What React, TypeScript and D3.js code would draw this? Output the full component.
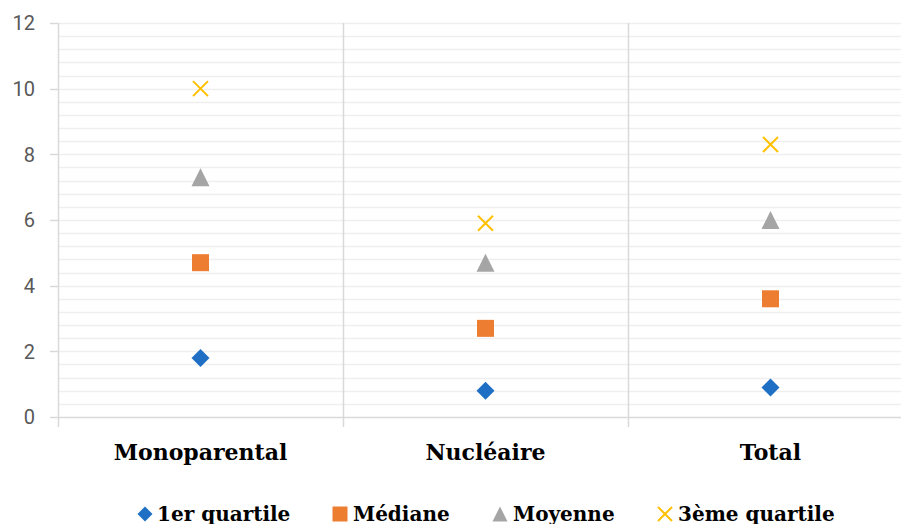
import { useEffect, useRef } from 'react';
import * as d3 from 'd3';

const categories = ['Monoparental', 'Nucléaire', 'Total'];
const seriesNames = ['1er quartile', 'Médiane', 'Moyenne', '3ème quartile'];
const q1 = [1.8, 0.8, 0.9];
const median = [4.7, 2.7, 3.6];
const mean = [7.3, 4.7, 6.0];
const q3 = [10, 5.9, 8.3];
const yTicks = [0, 2, 4, 6, 8, 10, 12];

const colors = ['#1f6fc5', '#ed7d31', '#a5a5a5', '#ffc000'];
const shapes = ['diamond', 'square', 'triangle', 'cross'];

const App = () => {
  const svgRef = useRef<SVGSVGElement>(null);

  const width = 901;
  const height = 524;

  useEffect(() => {
    if (!svgRef.current) return;
    document.body.style.margin = '0';

    const svg = d3.select(svgRef.current);
    svg.selectAll('*').remove();

    const left = 58;
    const top = 23;
    const bottom = 417;

    const x = d3.scaleBand().domain(categories).range([left, left + 285 * 3]);
    const y = d3.scaleLinear().domain([0, 12]).range([bottom, top]);

    // minor + major gridlines, every 0.4
    const grid = d3.range(1, 31).map(i => i * 0.4);
    svg.append('g')
      .selectAll('line')
      .data(grid)
      .enter()
      .append('line')
      .attr('x1', left)
      .attr('x2', width)
      .attr('y1', d => Math.round(y(d)) + 0.5)
      .attr('y2', d => Math.round(y(d)) + 0.5)
      .attr('stroke', '#efefef')
      .attr('stroke-width', 1.5);

    // category separators
    svg.append('g')
      .selectAll('line')
      .data(categories.slice(1))
      .enter()
      .append('line')
      .attr('x1', d => Math.round(x(d)!) + 0.5)
      .attr('x2', d => Math.round(x(d)!) + 0.5)
      .attr('y1', top)
      .attr('y2', bottom + 10)
      .attr('stroke', '#d9d9d9')
      .attr('stroke-width', 1.5);

    // left axis line and ticks
    svg.append('line')
      .attr('x1', left + 0.5).attr('x2', left + 0.5)
      .attr('y1', top).attr('y2', bottom + 10)
      .attr('stroke', '#d9d9d9').attr('stroke-width', 1.5);

    svg.append('g')
      .selectAll('line')
      .data(yTicks)
      .enter()
      .append('line')
      .attr('x1', left - 8)
      .attr('x2', left)
      .attr('y1', d => Math.round(y(d)) + 0.5)
      .attr('y2', d => Math.round(y(d)) + 0.5)
      .attr('stroke', '#d9d9d9')
      .attr('stroke-width', 1.5);

    // bottom axis
    svg.append('line')
      .attr('x1', left).attr('x2', width)
      .attr('y1', bottom + 0.5).attr('y2', bottom + 0.5)
      .attr('stroke', '#d9d9d9').attr('stroke-width', 1.5);

    // y tick labels
    svg.append('g')
      .selectAll('text')
      .data(yTicks)
      .enter()
      .append('text')
      .attr('x', 35)
      .attr('y', d => y(d))
      .attr('dy', '0.36em')
      .attr('text-anchor', 'end')
      .style('font-family', "Roboto, sans-serif")
      .style('font-size', '20px')
      .attr('fill', '#595959')
      .text(d => d);

    // category labels
    svg.append('g')
      .selectAll('text')
      .data(categories)
      .enter()
      .append('text')
      .attr('x', d => x(d)! + x.bandwidth() / 2)
      .attr('y', 460)
      .attr('text-anchor', 'middle')
      .style('font-family', "'DejaVu Serif', serif")
      .style('font-weight', 'bold')
      .style('font-size', '22px')
      .attr('fill', '#000')
      .text(d => d);

    const symbolPath = (shape: string, s: number) => {
      if (shape === 'diamond') return `M0,${-s}L${s},0L0,${s}L${-s},0Z`;
      if (shape === 'square') return `M${-s},${-s}H${s}V${s}H${-s}Z`;
      if (shape === 'triangle') return `M0,${-s}L${s},${s}H${-s}Z`;
      return `M${-s},${-s}L${s},${s}M${s},${-s}L${-s},${s}`;
    };

    const drawSymbol = (g: d3.Selection<SVGGElement, unknown, null, undefined>, i: number, cx: number, cy: number, s: number) => {
      const p = g.append('path')
        .attr('transform', `translate(${cx},${cy})`)
        .attr('d', symbolPath(shapes[i], s));
      if (shapes[i] === 'cross') {
        p.attr('fill', 'none').attr('stroke', colors[i]).attr('stroke-width', 2);
      } else {
        p.attr('fill', colors[i]);
      }
    };

    const series = [q1, median, mean, q3];
    const sizes = [9, 8.5, 9, 7.5];
    const marks = svg.append('g');
    series.forEach((vals, i) => {
      vals.forEach((v, j) => {
        drawSymbol(marks, i, x(categories[j])! + x.bandwidth() / 2, y(v), sizes[i]);
      });
    });

    // legend
    const legendX = [145, 340, 500, 665];
    const legendY = 514;
    const legend = svg.append('g');
    seriesNames.forEach((name, i) => {
      drawSymbol(legend, i, legendX[i], legendY, [7.5, 7.5, 7.5, 7][i]);
      legend.append('text')
        .attr('x', legendX[i] + [12, 13, 13, 13][i])
        .attr('y', 521)
        .style('font-family', "'DejaVu Serif', serif")
        .style('font-weight', 'bold')
        .style('font-size', '20px')
        .attr('fill', '#000')
        .text(name);
    });
  }, []);

  return (
    <svg ref={svgRef} width={width} height={height} style={{ display: 'block', background: '#fff' }}></svg>
  );
};

export default App;
